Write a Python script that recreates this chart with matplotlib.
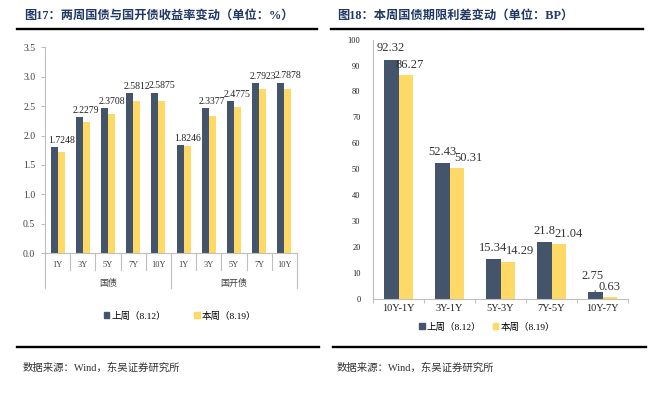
import matplotlib
matplotlib.use("Agg")
import matplotlib.pyplot as plt
from matplotlib.patches import Patch
from matplotlib.lines import Line2D
import numpy as np

plt.rcParams['font.family'] = ['Liberation Serif', 'Noto Sans CJK SC', 'DejaVu Sans']

# ---------------- data ----------------
left_cats = ["1Y", "3Y", "5Y", "7Y", "10Y", "1Y", "3Y", "5Y", "7Y", "10Y"]
left_groups = ["国债", "国开债"]
left_last = [1.80, 2.32, 2.47, 2.72, 2.73, 1.84, 2.46, 2.59, 2.89, 2.90]
left_this = [1.7248, 2.2279, 2.3708, 2.5812, 2.5875, 1.8246, 2.3377, 2.4775, 2.7923, 2.7878]
left_yticks = [0.0, 0.5, 1.0, 1.5, 2.0, 2.5, 3.0, 3.5]

right_cats = ["10Y-1Y", "3Y-1Y", "5Y-3Y", "7Y-5Y", "10Y-7Y"]
right_last = [92.32, 52.43, 15.34, 21.8, 2.75]
right_this = [86.27, 50.31, 14.29, 21.04, 0.63]
right_yticks = [0, 10, 20, 30, 40, 50, 60, 70, 80, 90, 100]

series_names = ["上周（8.12）", "本周（8.19）"]
title_left = "图17：两周国债与国开债收益率变动（单位：%）"
title_right = "图18：本周国债期限利差变动（单位：BP）"
source_text = "数据来源：Wind，东吴证券研究所"

# ---------------- style ----------------
DARK = "#44546A"
YEL = "#FFD966"
TITLE_C = "#1F3864"
AX_C = "#BFBFBF"
W, H = 657, 400

fig = plt.figure(figsize=(6.57, 4.0), dpi=100)

def fx(px):
    return px / W

def fy(py):
    return 1 - py / H

# titles and rule lines
fig.text(fx(24), fy(16), title_left, fontsize=8.8, fontweight='bold', color=TITLE_C, va='center', ha='left')
fig.text(fx(337), fy(16), title_right, fontsize=8.8, fontweight='bold', color=TITLE_C, va='center', ha='left')
fig.add_artist(Line2D([fx(17), fx(317)], [fy(29), fy(29)], color='black', lw=1.7))
fig.add_artist(Line2D([fx(331), fx(643)], [fy(29), fy(29)], color='black', lw=1.7))
fig.add_artist(Line2D([fx(17), fx(319)], [fy(347), fy(347)], color='black', lw=1.7))
fig.add_artist(Line2D([fx(333), fx(646)], [fy(347), fy(347)], color='black', lw=1.7))
fig.text(fx(23), fy(368), source_text, fontsize=7.5, color='#333333', va='center', ha='left')
fig.text(fx(337), fy(368), source_text, fontsize=7.5, color='#333333', va='center', ha='left')

# ---------------- left chart ----------------
axL = fig.add_axes([fx(45), fy(253.3), fx(297) - fx(45), fy(47.2) - fy(253.3)])
x = np.arange(len(left_cats))
bw = 0.28
axL.bar(x - bw / 2, left_last, width=bw, color=DARK)
axL.bar(x + bw / 2, left_this, width=bw, color=YEL)
axL.set_xlim(-0.5, len(left_cats) - 0.5)
axL.set_ylim(0, 3.5)
axL.set_yticks(left_yticks)
axL.set_yticklabels([f"{v:.1f}" for v in left_yticks], fontsize=7, color='#404040')
for s in ['top', 'right']:
    axL.spines[s].set_visible(False)
for s in ['left', 'bottom']:
    axL.spines[s].set_color(AX_C)
    axL.spines[s].set_linewidth(0.8)
axL.tick_params(axis='y', length=3, color=AX_C, width=0.8, pad=4)
axL.set_xticks(x)
axL.set_xticklabels([])
axL.tick_params(axis='x', length=0)
trL = axL.get_xaxis_transform()
for i, c in enumerate(left_cats):
    axL.text(i, -0.058, c, transform=trL, ha='center', va='center', fontsize=6, color='#404040')
for b in np.arange(-0.5, len(left_cats), 1.0):
    is_group = (abs(b + 0.5) < 1e-9) or (abs(b - 4.5) < 1e-9) or (abs(b - (len(left_cats) - 0.5)) < 1e-9)
    y1 = -0.17 if is_group else -0.083
    axL.add_line(Line2D([b, b], [0, y1], transform=trL, color=AX_C, lw=0.8, clip_on=False))
for g, name in enumerate(left_groups):
    axL.text(g * 5 + 2, -0.145, name, transform=trL, ha='center', va='center', fontsize=6.5, color='#404040')
for i in range(len(left_cats)):
    top = max(left_last[i], left_this[i])
    axL.annotate(f"{left_this[i]:g}", xy=(i + bw / 2, top), xytext=(0, 1.5),
                 textcoords='offset points', ha='center', va='bottom', fontsize=7, color='#222222')

handles = [Patch(color=DARK), Patch(color=YEL)]
fig.legend(handles, series_names, loc='center', bbox_to_anchor=(fx(180), fy(316)), ncol=2,
           frameon=False, fontsize=6.8, handlelength=0.6, handleheight=0.6, handletextpad=0.2,
           columnspacing=3.0, borderaxespad=0)

# ---------------- right chart ----------------
axR = fig.add_axes([fx(373), fy(298.7), fx(628) - fx(373), fy(39.7) - fy(298.7)])
xr = np.arange(len(right_cats))
bw2 = 0.285
axR.bar(xr - bw2 / 2, right_last, width=bw2, color=DARK)
axR.bar(xr + bw2 / 2, right_this, width=bw2, color=YEL)
axR.set_xlim(-0.5, len(right_cats) - 0.5)
axR.set_ylim(0, 100)
axR.set_yticks(right_yticks)
axR.set_yticklabels([str(v) for v in right_yticks], fontsize=6, color='#202020')
for s in ['top', 'right']:
    axR.spines[s].set_visible(False)
for s in ['left', 'bottom']:
    axR.spines[s].set_color(AX_C)
    axR.spines[s].set_linewidth(0.8)
axR.tick_params(axis='y', length=0, pad=9)
axR.set_xticks(xr)
axR.set_xticklabels(right_cats, fontsize=7.5, color='#202020')
axR.tick_params(axis='x', length=0, pad=4)
axR.set_xticks(np.arange(-0.5, len(right_cats), 1.0), minor=True)
axR.tick_params(axis='x', which='minor', length=3, color=AX_C, width=0.8)

label_dx_last = [0, 0, 0, 0, -2]
label_dx_this = [3, 8, 9, 7, 0]
for i in range(len(right_cats)):
    if i == len(right_cats) - 1:
        axR.annotate(f"{right_last[i]:g}", xy=(i - bw2 / 2, right_last[i]),
                     xytext=(label_dx_last[i], 11), textcoords='offset points',
                     ha='center', va='center', fontsize=9, color='#333333',
                     arrowprops=dict(arrowstyle='-', color='#333333', lw=0.7, shrinkA=4, shrinkB=0))
    else:
        axR.annotate(f"{right_last[i]:g}", xy=(i - bw2 / 2, right_last[i]),
                     xytext=(label_dx_last[i], 8), textcoords='offset points',
                     ha='center', va='center', fontsize=9, color='#333333')
    axR.annotate(f"{right_this[i]:g}", xy=(i + bw2 / 2, right_this[i]),
                 xytext=(label_dx_this[i], 7.5), textcoords='offset points',
                 ha='center', va='center', fontsize=9, color='#333333')

fig.legend(handles, series_names, loc='center', bbox_to_anchor=(fx(487), fy(327)), ncol=2,
           frameon=False, fontsize=6.8, handlelength=0.6, handleheight=0.6, handletextpad=0.2,
           columnspacing=1.2, borderaxespad=0)

fig.savefig("out.png", dpi=100)
